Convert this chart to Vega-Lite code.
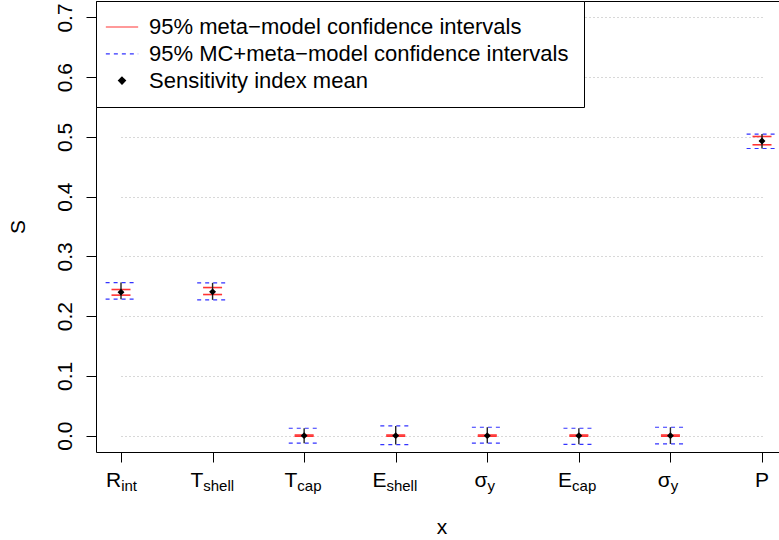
{
  "$schema": "https://vega.github.io/schema/vega-lite/v6.json",
  "width": 683,
  "height": 451,
  "autosize": {"type": "none"},
  "padding": {"left": 96, "top": 1, "right": 0, "bottom": 88},
  "background": "white",
  "config": {
    "font": "Liberation Sans",
    "view": {"stroke": "black", "strokeWidth": 1}
  },
  "data": {
    "values": [
      {"var": "R_int", "main": "R", "sub": "int", "mean": 0.2402, "lo95": 0.2352, "hi95": 0.2446, "loMC": 0.2285, "hiMC": 0.2563},
      {"var": "T_shell", "main": "T", "sub": "shell", "mean": 0.2407, "lo95": 0.2362, "hi95": 0.2479, "loMC": 0.2273, "hiMC": 0.2558},
      {"var": "T_cap", "main": "T", "sub": "cap", "mean": 0.0, "lo95": -0.001, "hi95": 0.001, "loMC": -0.0127, "hiMC": 0.0124},
      {"var": "E_shell", "main": "E", "sub": "shell", "mean": 0.0, "lo95": -0.001, "hi95": 0.001, "loMC": -0.015, "hiMC": 0.0162},
      {"var": "sigma_y_1", "main": "σ", "sub": "y", "mean": 0.0, "lo95": -0.001, "hi95": 0.001, "loMC": -0.0127, "hiMC": 0.014},
      {"var": "E_cap", "main": "E", "sub": "cap", "mean": 0.0, "lo95": -0.001, "hi95": 0.001, "loMC": -0.0145, "hiMC": 0.0124},
      {"var": "sigma_y_2", "main": "σ", "sub": "y", "mean": 0.0, "lo95": -0.001, "hi95": 0.001, "loMC": -0.0139, "hiMC": 0.014},
      {"var": "P", "main": "P", "sub": "none", "mean": 0.4931, "lo95": 0.4869, "hi95": 0.5008, "loMC": 0.4807, "hiMC": 0.5049}
    ]
  },
  "layer": [
    {
      "mark": {"type": "rule", "strokeDash": [4, 4], "strokeWidth": 1.2, "xOffset": -15.4, "x2Offset": 15.4},
      "encoding": {
        "x": {
          "field": "var", "type": "nominal",
          "scale": {"type": "point", "domain": ["R_int", "T_shell", "T_cap", "E_shell", "sigma_y_1", "E_cap", "sigma_y_2", "P"], "range": [25, 666], "padding": 0},
          "axis": {"title": "x", "labels": false, "ticks": true, "tickSize": 10, "tickColor": "black", "tickWidth": 1, "domain": false, "grid": false,
                   "titleFontSize": 21, "titleFontWeight": "normal", "titleColor": "black", "titleX": 345.5, "titleY": 81.3, "titleBaseline": "alphabetic", "titleAlign": "center"}
        },
        "x2": {"field": "var"},
        "y": {
          "field": "hiMC", "type": "quantitative",
          "scale": {"domain": [-0.0274, 0.7276], "nice": false, "zero": false},
          "axis": {"title": "S", "values": [0, 0.1, 0.2, 0.3, 0.4, 0.5, 0.6, 0.7], "format": ".1f",
                   "labelAngle": 270, "labelAlign": "center", "labelBaseline": "alphabetic", "labelPadding": 15,
                   "labelFontSize": 21, "labelColor": "black", "labelOverlap": false, "labelFlush": false,
                   "tickSize": 10, "tickColor": "black", "tickWidth": 1, "domain": false,
                   "grid": true, "gridColor": "#b0b0b0", "gridDash": [1, 3], "gridWidth": 1,
                   "titleFontSize": 21, "titleFontWeight": "normal", "titleColor": "black",
                   "titleX": -77.5, "titleY": 225.5, "titleBaseline": "middle", "titleAngle": 270, "titleAlign": "center"}
        },
        "color": {
          "datum": "95% MC+meta−model confidence intervals", "type": "nominal",
          "scale": {"domain": ["95% meta−model confidence intervals", "95% MC+meta−model confidence intervals", "Sensitivity index mean"], "range": ["#ff3333", "#3333ff", "black"]},
          "legend": {
            "orient": "top-left", "offset": 0, "title": null,
            "fillColor": "white", "strokeColor": "black",
            "padding": 15, "rowPadding": 4.8,
            "labelFontSize": 22, "labelColor": "black", "labelLimit": 1000, "labelOffset": 16,
            "symbolSize": 100, "symbolStrokeWidth": 1.2,
            "encode": {
              "symbols": {
                "update": {
                  "shape": {"signal": "datum.value === 'Sensitivity index mean' ? 'M-0.7,0L0,-0.7L0.7,0L0,0.7Z' : 'M-3.23,0H3.23'"},
                  "strokeDash": {"signal": "datum.value === '95% MC+meta−model confidence intervals' ? [4,4] : [1,0]"},
                  "fill": {"signal": "datum.value === 'Sensitivity index mean' ? 'black' : 'transparent'"},
                  "stroke": {"signal": "datum.value === 'Sensitivity index mean' ? 'transparent' : (datum.value === '95% meta−model confidence intervals' ? '#ff3333' : '#3333ff')"},
                  "strokeWidth": {"value": 1.2},
                  "opacity": {"value": 1}
                }
              }
            }
          }
        }
      }
    },
    {
      "mark": {"type": "rule", "strokeDash": [4, 4], "strokeWidth": 1.2, "xOffset": -15.4, "x2Offset": 15.4},
      "encoding": {
        "x": {"field": "var", "type": "nominal"},
        "x2": {"field": "var"},
        "y": {"field": "loMC", "type": "quantitative"},
        "color": {"datum": "95% MC+meta−model confidence intervals", "type": "nominal"}
      }
    },
    {
      "mark": {"type": "rule", "strokeWidth": 1.6, "xOffset": -9.5, "x2Offset": 9.5},
      "encoding": {
        "x": {"field": "var", "type": "nominal"},
        "x2": {"field": "var"},
        "y": {"field": "hi95", "type": "quantitative"},
        "color": {"datum": "95% meta−model confidence intervals", "type": "nominal"}
      }
    },
    {
      "mark": {"type": "rule", "strokeWidth": 1.6, "xOffset": -9.5, "x2Offset": 9.5},
      "encoding": {
        "x": {"field": "var", "type": "nominal"},
        "x2": {"field": "var"},
        "y": {"field": "lo95", "type": "quantitative"},
        "color": {"datum": "95% meta−model confidence intervals", "type": "nominal"}
      }
    },
    {
      "mark": {"type": "rule", "strokeWidth": 1.4, "color": "#222222"},
      "encoding": {
        "x": {"field": "var", "type": "nominal"},
        "y": {"field": "loMC", "type": "quantitative"},
        "y2": {"field": "hiMC"}
      }
    },
    {
      "mark": {"type": "point", "shape": "diamond", "filled": true, "size": 48, "opacity": 1},
      "encoding": {
        "x": {"field": "var", "type": "nominal"},
        "y": {"field": "mean", "type": "quantitative"},
        "color": {"datum": "Sensitivity index mean", "type": "nominal"}
      }
    },
    {
      "transform": [{"filter": {"field": "sub", "oneOf": ["int", "y"]}}],
      "mark": {"type": "text", "align": "right", "baseline": "alphabetic", "dx": 0.2, "dy": 35, "fontSize": 21, "color": "black"},
      "encoding": {"x": {"field": "var", "type": "nominal"}, "y": {"value": "height"}, "text": {"field": "main"}}
    },
    {
      "transform": [{"filter": {"field": "sub", "oneOf": ["int", "y"]}}],
      "mark": {"type": "text", "align": "left", "baseline": "alphabetic", "dx": 0.2, "dy": 38.5, "fontSize": 15, "color": "black"},
      "encoding": {"x": {"field": "var", "type": "nominal"}, "y": {"value": "height"}, "text": {"field": "sub"}}
    },
    {
      "transform": [{"filter": {"field": "sub", "equal": "shell"}}],
      "mark": {"type": "text", "align": "right", "baseline": "alphabetic", "dx": -9.3, "dy": 35, "fontSize": 21, "color": "black"},
      "encoding": {"x": {"field": "var", "type": "nominal"}, "y": {"value": "height"}, "text": {"field": "main"}}
    },
    {
      "transform": [{"filter": {"field": "sub", "equal": "shell"}}],
      "mark": {"type": "text", "align": "left", "baseline": "alphabetic", "dx": -9.3, "dy": 38.5, "fontSize": 15, "color": "black"},
      "encoding": {"x": {"field": "var", "type": "nominal"}, "y": {"value": "height"}, "text": {"field": "sub"}}
    },
    {
      "transform": [{"filter": {"field": "sub", "equal": "cap"}}],
      "mark": {"type": "text", "align": "right", "baseline": "alphabetic", "dx": -6.8, "dy": 35, "fontSize": 21, "color": "black"},
      "encoding": {"x": {"field": "var", "type": "nominal"}, "y": {"value": "height"}, "text": {"field": "main"}}
    },
    {
      "transform": [{"filter": {"field": "sub", "equal": "cap"}}],
      "mark": {"type": "text", "align": "left", "baseline": "alphabetic", "dx": -6.8, "dy": 38.5, "fontSize": 15, "color": "black"},
      "encoding": {"x": {"field": "var", "type": "nominal"}, "y": {"value": "height"}, "text": {"field": "sub"}}
    },
    {
      "transform": [{"filter": {"field": "sub", "equal": "none"}}],
      "mark": {"type": "text", "align": "center", "baseline": "alphabetic", "dy": 35, "fontSize": 21, "color": "black"},
      "encoding": {"x": {"field": "var", "type": "nominal"}, "y": {"value": "height"}, "text": {"field": "main"}}
    }
  ]
}
